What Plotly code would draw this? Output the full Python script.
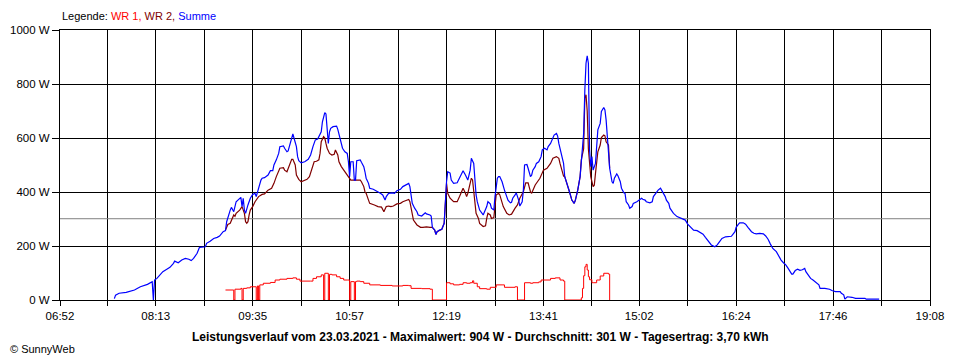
import plotly.graph_objects as go

# ---------------- data ----------------
tick_labels = ["06:52", "08:13", "09:35", "10:57", "12:19", "13:41", "15:02", "16:24", "17:46", "19:08"]
y_ticks = [0, 200, 400, 600, 800, 1000]
average_w = 301

summe_times = [
    "07:38", "07:39", "07:42", "07:48", "07:55", "08:00", "08:06", "08:10", "08:11", "08:12",
    "08:14", "08:17", "08:19", "08:22", "08:25", "08:28", "08:29", "08:32", "08:35", "08:38",
    "08:41", "08:43", "08:45", "08:48", "08:50", "08:55", "08:56", "08:59", "09:02", "09:05",
    "09:07", "09:10", "09:12", "09:13", "09:14", "09:16", "09:17", "09:19", "09:21", "09:24",
    "09:25", "09:26", "09:27", "09:28", "09:29", "09:31", "09:33", "09:35", "09:37", "09:38",
    "09:41", "09:42", "09:43", "09:45", "09:48", "09:50", "09:52", "09:53", "09:55", "09:57",
    "09:58", "10:01", "10:02", "10:04", "10:05", "10:07", "10:08", "10:09", "10:10", "10:12",
    "10:13", "10:14", "10:16", "10:19", "10:22", "10:24", "10:26", "10:28", "10:30", "10:31",
    "10:33", "10:34", "10:35", "10:36", "10:37", "10:38", "10:39", "10:40", "10:41", "10:43",
    "10:46", "10:47", "10:49", "10:51", "10:53", "10:55", "10:56", "10:57", "10:58", "11:00",
    "11:01", "11:02", "11:03", "11:06", "11:07", "11:09", "11:10", "11:11", "11:13", "11:14",
    "11:17", "11:18", "11:20", "11:23", "11:25", "11:27", "11:28", "11:30", "11:33", "11:35",
    "11:37", "11:40", "11:42", "11:44", "11:47", "11:48", "11:49", "11:50", "11:52", "11:54",
    "11:55", "11:58", "12:01", "12:02", "12:05", "12:06", "12:07", "12:09", "12:10", "12:11",
    "12:13", "12:15", "12:17", "12:18", "12:19", "12:20", "12:22", "12:23", "12:25", "12:28",
    "12:30", "12:32", "12:33", "12:35", "12:37", "12:39", "12:40", "12:42", "12:43", "12:44",
    "12:45", "12:47", "12:50", "12:53", "12:54", "12:56", "12:57", "12:59", "13:00", "13:01",
    "13:02", "13:03", "13:04", "13:06", "13:07", "13:08", "13:11", "13:13", "13:14", "13:15",
    "13:17", "13:18", "13:20", "13:21", "13:23", "13:24", "13:25", "13:27", "13:28", "13:30",
    "13:31", "13:32", "13:34", "13:35", "13:37", "13:39", "13:40", "13:42", "13:44", "13:45",
    "13:47", "13:48", "13:50", "13:52", "13:53", "13:54", "13:56", "13:58", "13:59", "14:01",
    "14:03", "14:05", "14:07", "14:08", "14:10", "14:12", "14:13", "14:15", "14:16", "14:17",
    "14:18", "14:19", "14:20", "14:21", "14:22", "14:23", "14:25", "14:26", "14:27", "14:29",
    "14:30", "14:32", "14:33", "14:34", "14:36", "14:37", "14:39", "14:40", "14:41", "14:43",
    "14:44", "14:46", "14:47", "14:49", "14:50", "14:51", "14:53", "14:54", "14:56", "14:57",
    "15:00", "15:03", "15:04", "15:05", "15:07", "15:08", "15:11", "15:13", "15:14", "15:16",
    "15:18", "15:20", "15:22", "15:24", "15:25", "15:27", "15:28", "15:29", "15:31", "15:34",
    "15:38", "15:41", "15:43", "15:45", "15:48", "15:51", "15:53", "15:56", "15:58", "16:00",
    "16:03", "16:06", "16:08", "16:10", "16:12", "16:15", "16:17", "16:20", "16:23", "16:24",
    "16:26", "16:27", "16:30", "16:32", "16:34", "16:37", "16:39", "16:41", "16:44", "16:47",
    "16:49", "16:51", "16:53", "16:55", "16:58", "17:00", "17:02", "17:04", "17:06", "17:08",
    "17:10", "17:11", "17:12", "17:14", "17:16", "17:18", "17:20", "17:22", "17:23", "17:25",
    "17:27", "17:29", "17:32", "17:34", "17:35", "17:39", "17:43", "17:45", "17:48", "17:52",
    "17:53", "17:55", "17:56", "17:58", "18:02", "18:05", "18:13", "18:14", "18:25",
]
summe_w = [
    5, 18, 25, 28, 37, 49, 58, 68, 0, 74,
    80, 93, 105, 113, 121, 136, 144, 138, 148, 154,
    151, 146, 154, 173, 195, 197, 210, 218, 228, 232,
    237, 253, 257, 290, 308, 333, 343, 327, 364, 377,
    380, 346, 377, 333, 321, 352, 377, 391, 395, 383,
    432, 444, 451, 453, 463, 479, 479, 500, 519, 543,
    568, 571, 562, 549, 552, 586, 607, 615, 599, 568,
    531, 516, 508, 512, 521, 537, 568, 593, 596, 605,
    623, 660, 673, 694, 689, 620, 580, 623, 636, 642,
    644, 632, 599, 562, 549, 543, 512, 457, 512, 512,
    444, 444, 516, 519, 510, 494, 475, 451, 432, 414,
    410, 408, 401, 395, 389, 370, 383, 395, 397, 395,
    405, 410, 420, 426, 432, 420, 395, 358, 340, 327,
    315, 311, 323, 319, 315, 311, 269, 259, 243, 253,
    259, 262, 284, 370, 438, 475, 470, 444, 432, 434,
    451, 469, 479, 463, 444, 481, 525, 506, 432, 389,
    364, 333, 315, 346, 364, 356, 340, 333, 383, 432,
    451, 457, 457, 438, 420, 407, 370, 360, 362, 377,
    389, 397, 370, 348, 364, 407, 500, 502, 488, 457,
    462, 481, 494, 506, 512, 531, 556, 562, 556, 568,
    580, 593, 611, 617, 607, 580, 543, 506, 457, 432,
    401, 370, 358, 370, 407, 457, 519, 617, 778, 877,
    904, 877, 556, 494, 531, 481, 506, 593, 630, 654,
    698, 713, 704, 667, 568, 488, 438, 432, 451, 467,
    460, 438, 414, 397, 395, 364, 352, 340, 346, 358,
    364, 373, 377, 373, 370, 364, 360, 364, 383, 395,
    407, 414, 401, 383, 370, 358, 340, 333, 321, 309,
    302, 296, 281, 272, 259, 257, 253, 244, 232, 222,
    204, 197, 204, 216, 228, 234, 234, 236, 253, 269,
    281, 286, 286, 281, 269, 253, 247, 245, 247, 245,
    237, 225, 207, 191, 179, 163, 148, 138, 130, 117,
    105, 96, 96, 109, 114, 110, 112, 117, 105, 93,
    80, 74, 64, 56, 43, 43, 40, 35, 31, 31,
    25, 19, 3, 12, 10, 6, 6, 3, 3,
]

wr1_times = [
    "09:12", "09:19", "09:20", "09:25", "09:26", "09:27", "09:30", "09:33", "09:38", "09:39",
    "09:40", "09:41", "09:44", "09:50", "09:54", "09:58", "10:04", "10:09", "10:12", "10:15",
    "10:24", "10:26", "10:29", "10:33", "10:35", "10:36", "10:39", "10:40",
    "10:42", "10:46", "10:49", "10:52", "10:55", "10:57", "10:58", "11:01", "11:02",
    "11:03", "11:06", "11:09", "11:14", "11:23", "11:33", "11:42", "11:47", "11:49", "11:58",
    "12:05", "12:07", "12:19", "12:22", "12:25", "12:30", "12:33", "12:36", "12:39", "12:41",
    "12:42", "12:45", "12:47", "12:53", "12:56", "13:01", "13:06", "13:08", "13:17", "13:19",
    "13:25", "13:30", "13:32", "13:37", "13:39", "13:47", "13:51", "13:55", "13:58", "13:59",
    "14:13", "14:14", "14:15", "14:16", "14:17", "14:18", "14:19", "14:20", "14:22", "14:23",
    "14:26", "14:29", "14:32", "14:36", "14:37",
]
wr1_w = [
    37, 0, 40, 43, 0, 43, 45, 49, 0, 52,
    0, 56, 62, 65, 74, 77, 80, 82, 77, 70,
    70, 80, 86, 93, 0, 99, 0, 95,
    93, 86, 80, 74, 74, 0, 68, 0, 68,
    70, 68, 62, 56, 54, 52, 54, 53, 43, 42,
    40, 0, 64, 60, 56, 58, 64, 62, 64, 71,
    62, 49, 42, 40, 47, 56, 56, 47, 49, 0,
    64, 62, 64, 67, 74, 80, 82, 74, 70, 0,
    8, 43, 90, 123, 132, 111, 86, 75, 64, 64,
    74, 89, 99, 96, 0,
]

wr2_times = [
    "09:12", "09:14", "09:16", "09:17", "09:19", "09:20", "09:21", "09:24", "09:26", "09:28",
    "09:29", "09:30", "09:31", "09:32", "09:33", "09:35", "09:37", "09:40", "09:43", "09:45",
    "09:48", "09:51", "09:53", "09:55", "09:57", "09:58", "10:01", "10:02", "10:04", "10:05",
    "10:07", "10:08", "10:09", "10:11", "10:12", "10:14", "10:16", "10:18", "10:21", "10:23",
    "10:25", "10:27", "10:29", "10:31", "10:32", "10:33", "10:35", "10:36", "10:37", "10:38",
    "10:40", "10:42", "10:44", "10:45", "10:47", "10:48", "10:50", "10:52", "10:54", "10:56",
    "10:58", "11:02", "11:06", "11:07", "11:09", "11:10", "11:11", "11:13", "11:14", "11:18",
    "11:21", "11:24", "11:26", "11:28", "11:30", "11:32", "11:34", "11:37", "11:40", "11:42",
    "11:45", "11:47", "11:48", "11:50", "11:51", "11:54", "11:57", "11:59", "12:02", "12:05",
    "12:07", "12:09", "12:10", "12:11", "12:13", "12:15", "12:17", "12:18", "12:19", "12:20",
    "12:22", "12:25", "12:28", "12:30", "12:32", "12:33", "12:35", "12:36", "12:37", "12:39",
    "12:40", "12:41", "12:42", "12:43", "12:44", "12:46", "12:47", "12:50", "12:52", "12:53",
    "12:54", "12:56", "12:57", "12:59", "13:00", "13:01", "13:03", "13:04", "13:07", "13:10",
    "13:12", "13:14", "13:17", "13:19", "13:21", "13:24", "13:26", "13:28", "13:30", "13:31",
    "13:34", "13:36", "13:38", "13:41", "13:42", "13:44", "13:47", "13:49", "13:52", "13:54",
    "13:55", "13:56", "13:58", "13:59", "14:01", "14:03", "14:05", "14:07", "14:08", "14:10",
    "14:12", "14:13", "14:15", "14:16", "14:17", "14:18", "14:19", "14:20", "14:21", "14:23",
    "14:24", "14:25", "14:26", "14:27", "14:29", "14:30", "14:32", "14:33", "14:34", "14:36",
    "14:37",
]
wr2_w = [
    259, 280, 284, 296, 315, 310, 321, 333, 346, 321,
    290, 284, 290, 315, 333, 346, 364, 383, 391, 393,
    407, 414, 432, 457, 479, 488, 490, 481, 475, 488,
    506, 521, 521, 500, 463, 447, 438, 442, 447, 457,
    481, 512, 514, 519, 543, 586, 605, 600, 580, 562,
    543, 537, 540, 556, 537, 512, 494, 481, 469, 457,
    444, 444, 444, 438, 420, 401, 395, 370, 358, 352,
    346, 344, 327, 346, 348, 346, 348, 356, 358, 364,
    370, 372, 364, 321, 296, 278, 269, 269, 271, 269,
    269, 259, 243, 253, 259, 262, 284, 370, 432, 395,
    377, 364, 364, 383, 401, 414, 395, 383, 395, 432,
    451, 445, 407, 364, 321, 302, 284, 272, 275, 302,
    321, 315, 302, 305, 346, 389, 395, 390, 346, 321,
    315, 318, 340, 352, 377, 401, 434, 434, 401, 395,
    426, 438, 451, 481, 483, 488, 506, 525, 531, 525,
    506, 488, 459, 457, 432, 401, 370, 358, 370, 407,
    457, 519, 560, 747, 760, 700, 560, 494, 457, 420,
    425, 469, 519, 549, 574, 602, 611, 608, 586, 574,
    488,
]


def to_min(hhmm):
    h, m = hhmm.split(":")
    return int(h) * 60 + int(m)


tick_vals = [to_min(t) for t in tick_labels]
minor_vals = [(a + b) / 2 for a, b in zip(tick_vals[:-1], tick_vals[1:])]

C_WR1 = "#FF0000"
C_WR2 = "#800000"
C_SUM = "#0000FF"
FONT = "Liberation Sans, Arial, sans-serif"

fig = go.Figure()

# average line (Durchschnitt)
fig.add_trace(go.Scatter(
    x=[tick_vals[0], tick_vals[-1]], y=[average_w, average_w], mode="lines",
    line=dict(color="#808080", width=1), hoverinfo="skip", showlegend=False))

fig.add_trace(go.Scatter(
    x=[to_min(t) for t in wr1_times], y=wr1_w, mode="lines", name="WR 1",
    line=dict(color=C_WR1, width=1, shape="hv"), showlegend=False))
fig.add_trace(go.Scatter(
    x=[to_min(t) for t in wr2_times], y=wr2_w, mode="lines", name="WR 2",
    line=dict(color=C_WR2, width=1.2), showlegend=False))
fig.add_trace(go.Scatter(
    x=[to_min(t) for t in summe_times], y=summe_w, mode="lines", name="Summe",
    line=dict(color=C_SUM, width=1.2), showlegend=False))

# the page body has an 8px margin, so the figure is sized/offset to compensate
fig.update_layout(
    width=952, height=352,
    margin=dict(l=52, r=30, t=22, b=60, autoexpand=False),
    paper_bgcolor="white", plot_bgcolor="white",
    font=dict(family=FONT, size=11, color="black"),
)

fig.update_xaxes(
    range=[tick_vals[0], tick_vals[-1]],
    tickmode="array", tickvals=tick_vals, ticktext=tick_labels,
    showgrid=True, gridcolor="black", gridwidth=1,
    showline=True, linecolor="black", linewidth=1, mirror=True,
    ticks="outside", ticklen=5, tickcolor="black",
    tickfont=dict(family=FONT, size=11.5, color="black"),
    minor=dict(tickmode="array", tickvals=minor_vals, showgrid=True,
               gridcolor="black", gridwidth=1, ticks="outside", ticklen=5,
               tickcolor="black"),
    zeroline=False, fixedrange=True, automargin=False,
)
fig.update_yaxes(
    range=[0, 1000],
    tickmode="array", tickvals=y_ticks, ticktext=[f"{v} W" for v in y_ticks],
    showgrid=True, gridcolor="black", gridwidth=1,
    showline=True, linecolor="black", linewidth=1, mirror=True,
    ticks="outside", ticklen=7, tickcolor="black",
    tickfont=dict(family=FONT, size=11.5, color="black"),
    zeroline=False, fixedrange=True, automargin=False,
)

legend_text = (
    "Legende: "
    f"<span style='color:{C_WR1}'>WR 1, </span>"
    f"<span style='color:{C_WR2}'>WR 2, </span>"
    f"<span style='color:{C_SUM}'>Summe</span>"
)
fig.add_annotation(text=legend_text, xref="paper", yref="paper", x=0, y=1,
                   xanchor="left", yanchor="bottom", yshift=6, showarrow=False,
                   font=dict(family=FONT, size=11, color="black"))

title_text = ("<b>Leistungsverlauf vom 23.03.2021 - Maximalwert: 904 W - "
              "Durchschnitt: 301 W - Tagesertrag: 3,70 kWh</b>")
fig.add_annotation(text=title_text, xref="paper", yref="paper", x=0.483, y=0,
                   xanchor="center", yanchor="middle", yshift=-37, showarrow=False,
                   font=dict(family=FONT, size=12, color="black"))

fig.add_annotation(text="© SunnyWeb", xref="paper", yref="paper", x=0, y=0,
                   xanchor="left", yanchor="middle", xshift=-52, yshift=-49,
                   showarrow=False, font=dict(family=FONT, size=11, color="black"))

fig.write_html("out.html")
